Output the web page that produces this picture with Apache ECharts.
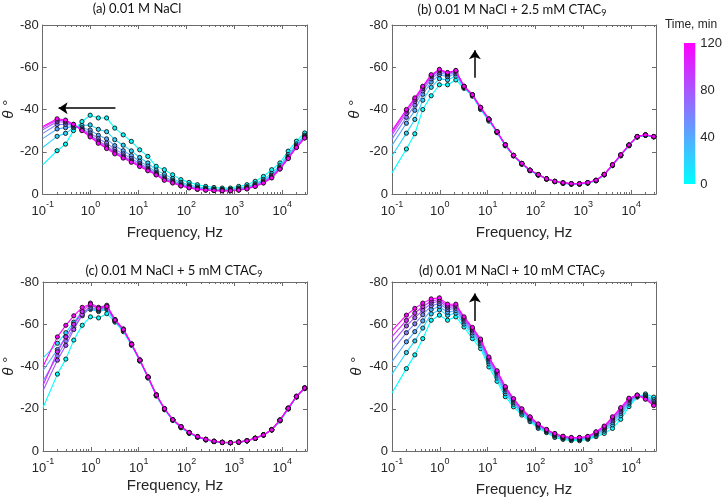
<!DOCTYPE html>
<html><head><meta charset="utf-8">
<script src="https://cdn.jsdelivr.net/npm/echarts@6/dist/echarts.min.js"></script>
<style>html,body{margin:0;padding:0;background:#fff}#c{width:725px;height:499px}</style>
</head><body><div id="c"></div>
<script>
// time of each curve (min)
const TIMES = [0, 20, 40, 60, 80, 100, 120];
// frequency (Hz); first entry = start of fitted line (no measured marker)
const FREQ = [0.1, 0.2, 0.3, 0.44, 0.66, 0.98, 1.45, 2.16, 3.2, 4.8, 7.1, 10.6, 15.7, 23.4, 34.7, 51.7, 76.8, 114, 170, 253, 376, 559, 831, 1236, 1838, 2733, 4064, 6043, 8985, 13360, 19870, 29540];
const TITLES = ['(a) 0.01 M NaCl', '(b) 0.01 M NaCl + 2.5 mM CTAC{sub|9}', '(c) 0.01 M NaCl + 5 mM CTAC{sub|9}', '(d) 0.01 M NaCl + 10 mM CTAC{sub|9}'];
const Y_TICKS = [-80, -60, -40, -20, 0];

// (a) 0.01 M NaCl  — phase angle (deg)
const a_t0   = [-13.8,-20.5,-23.6,-30,-34.3,-37.3,-36,-36,-31.2,-28,-24.9,-20.9,-17.8,-13.1,-11.5,-9.1,-6.8,-5.5,-4.4,-3.6,-3.1,-2.8,-2.8,-3.6,-4.4,-6,-8.3,-11.5,-14.7,-20.3,-25,-28.9];
const a_t20  = [-22,-27.3,-28.7,-31.4,-32.4,-32.7,-30.6,-29.5,-25.7,-23.1,-20.4,-17.3,-14.7,-11.3,-9.3,-7.3,-5.5,-4.3,-3.4,-2.8,-2.4,-2.2,-2.2,-2.8,-3.5,-4.9,-6.9,-9.7,-13.4,-18.7,-23.7,-27.8];
const a_t40  = [-26.2,-30.8,-31.4,-32,-31.4,-30.3,-27.8,-26.1,-22.9,-20.5,-18.2,-15.5,-13.2,-10.3,-8.1,-6.4,-4.8,-3.7,-2.9,-2.4,-2.1,-1.9,-1.9,-2.4,-3,-4.4,-6.2,-8.9,-12.7,-17.9,-23,-27.3];
const a_t60  = [-28.7,-32.9,-33,-32.5,-30.8,-28.9,-26.2,-24.1,-21.2,-19,-16.8,-14.4,-12.2,-9.7,-7.4,-5.9,-4.3,-3.4,-2.6,-2.1,-1.9,-1.7,-1.7,-2.1,-2.8,-4,-5.8,-8.3,-12.3,-17.4,-22.5,-26.9];
const a_t80  = [-30.4,-34.2,-34,-32.7,-30.4,-27.9,-25.1,-22.8,-20.1,-18,-15.9,-13.7,-11.6,-9.4,-7,-5.6,-4.1,-3.1,-2.4,-2,-1.7,-1.6,-1.6,-2,-2.6,-3.8,-5.5,-8,-12.1,-17.1,-22.3,-26.7];
const a_t100 = [-31.3,-35,-34.5,-32.9,-30.2,-27.4,-24.5,-22.1,-19.5,-17.4,-15.4,-13.3,-11.3,-9.2,-6.7,-5.4,-3.9,-3,-2.3,-1.9,-1.7,-1.6,-1.6,-1.9,-2.5,-3.7,-5.3,-7.8,-11.9,-16.9,-22.1,-26.6];
const a_t120 = [-32,-35.6,-35,-33,-30,-27,-24,-21.5,-19,-17,-15,-13,-11,-9,-6.5,-5.2,-3.8,-2.9,-2.2,-1.8,-1.6,-1.5,-1.5,-1.8,-2.4,-3.6,-5.2,-7.6,-11.8,-16.8,-22,-26.5];

// (b) + 2.5 mM CTAC9
const b_t0   = [-10,-21.3,-28.5,-40,-46.5,-51.7,-51.7,-54,-50,-46.3,-40,-34.5,-29,-22.8,-18,-14,-11,-8.9,-7,-5.8,-5,-4.6,-4.6,-5.1,-6.2,-9,-13.4,-18,-22.8,-26.9,-27.7,-27];
const b_t20  = [-18,-28.8,-35.3,-44.4,-50.5,-54.6,-54,-55.8,-50.4,-46.6,-40.4,-34.9,-29.2,-23,-18.1,-14.2,-11.1,-9,-7.1,-5.9,-5.1,-4.7,-4.7,-5.2,-6.3,-9.1,-13.6,-18.2,-23,-27,-27.8,-27.1];
const b_t40  = [-23,-33.5,-39.6,-47.2,-53,-56.5,-55.5,-56.9,-50.7,-46.8,-40.7,-35.2,-29.3,-23.1,-18.2,-14.3,-11.2,-9.1,-7.1,-5.9,-5.2,-4.8,-4.8,-5.3,-6.4,-9.2,-13.7,-18.3,-23.1,-27.1,-27.9,-27.1];
const b_t60  = [-26,-36.3,-42.1,-48.8,-54.5,-57.5,-56.3,-57.6,-50.8,-46.9,-40.8,-35.3,-29.4,-23.2,-18.2,-14.4,-11.2,-9.1,-7.2,-6,-5.2,-4.8,-4.8,-5.3,-6.4,-9.2,-13.7,-18.4,-23.1,-27.1,-27.9,-27.2];
const b_t80  = [-28,-38.1,-43.8,-49.9,-55.5,-58.3,-56.9,-58.1,-51,-47,-41,-35.5,-29.5,-23.3,-18.3,-14.5,-11.3,-9.2,-7.2,-6,-5.3,-4.9,-4.9,-5.4,-6.5,-9.3,-13.8,-18.5,-23.2,-27.2,-28,-27.2];
const b_t100 = [-29.2,-39.3,-44.8,-50.6,-56.1,-58.7,-57.3,-58.3,-51,-47,-41,-35.5,-29.5,-23.3,-18.3,-14.5,-11.3,-9.2,-7.2,-6,-5.3,-4.9,-4.9,-5.4,-6.5,-9.3,-13.8,-18.5,-23.2,-27.2,-28,-27.2];
const b_t120 = [-30,-40,-45.5,-51,-56.5,-59,-57.5,-58.5,-51,-47,-41,-35.5,-29.5,-23.3,-18.3,-14.5,-11.3,-9.2,-7.2,-6,-5.3,-4.9,-4.9,-5.4,-6.5,-9.3,-13.8,-18.5,-23.2,-27.2,-28,-27.2];

// (c) + 5 mM CTAC9
const c_t0   = [-20.5,-36.4,-43.5,-52.5,-59.5,-63.5,-63,-65,-61,-56.5,-50,-42.5,-34.5,-26,-19.5,-14.5,-11,-8.3,-6.5,-5.2,-4.4,-4,-3.9,-4.2,-4.8,-6,-7.6,-10,-14.2,-19.8,-25.5,-29.5];
const c_t20  = [-44,-51,-56,-61,-66,-67,-66,-67,-61.5,-57,-50.3,-42.8,-34.8,-26.3,-19.8,-14.6,-11.2,-8.5,-6.6,-5.3,-4.5,-4,-3.9,-4.2,-4.8,-6,-7.6,-10,-14.4,-20,-25.6,-29.6];
const c_t40  = [-38,-48,-54,-60,-65,-67.5,-66.5,-67.5,-61.7,-57.2,-50.4,-42.9,-34.9,-26.4,-19.9,-14.7,-11.3,-8.6,-6.7,-5.4,-4.5,-4.1,-3.9,-4.2,-4.8,-6,-7.6,-10,-14.5,-20.1,-25.7,-29.7];
const c_t60  = [-33,-45,-52,-58.5,-64,-68,-67,-68,-61.8,-57.3,-50.4,-42.9,-34.9,-26.4,-19.9,-14.7,-11.4,-8.6,-6.7,-5.4,-4.5,-4.1,-3.9,-4.2,-4.8,-6,-7.6,-10,-14.5,-20.1,-25.7,-29.7];
const c_t80  = [-28.5,-43,-50,-57.5,-64.5,-69,-67.5,-68.5,-62,-57.5,-50.5,-43,-35,-26.5,-20,-14.8,-11.5,-8.7,-6.8,-5.5,-4.6,-4.1,-3.9,-4.2,-4.8,-6,-7.6,-10,-14.6,-20.2,-25.8,-29.8];
const c_t100 = [-31,-47,-54,-60,-66,-70,-68,-69,-62.3,-57.8,-50.8,-43.2,-35.2,-26.7,-20.1,-14.9,-11.6,-8.8,-6.9,-5.6,-4.7,-4.2,-4,-4.3,-4.9,-6.1,-7.7,-10.2,-14.8,-20.4,-26,-30];
const c_t120 = [-40,-54,-59.5,-64,-68,-69.5,-67.5,-68.5,-62,-57.5,-50.5,-43,-35,-26.5,-20,-14.8,-11.5,-8.7,-6.8,-5.5,-4.6,-4.1,-3.9,-4.2,-4.8,-6,-7.6,-10,-14.6,-20.2,-25.8,-29.8];

// (d) + 10 mM CTAC9
const d_t0   = [-27.5,-39,-45.5,-53.2,-61.9,-64.3,-61.9,-63.5,-58.7,-53.2,-48.5,-39.8,-33,-25.7,-20.9,-17,-13.9,-10.7,-8.7,-6.4,-5.5,-4.9,-4.9,-5.5,-6.8,-8.3,-10.7,-15,-21,-25.5,-27,-25.5];
const d_t20  = [-36.4,-46.6,-52.1,-58.2,-64.9,-66.8,-64.2,-65.3,-60.1,-54.8,-49.9,-41.2,-34.5,-27.1,-22.1,-17.9,-14.6,-11.3,-9.2,-7,-6,-5.4,-5.4,-5.9,-7.5,-9.4,-12.4,-16.7,-22.2,-25.8,-26.3,-24.3];
const d_t40  = [-42.3,-51.7,-56.5,-61.6,-67,-68.4,-65.7,-66.5,-61.1,-55.9,-50.8,-42.2,-35.5,-28.1,-22.9,-18.5,-15.1,-11.8,-9.5,-7.4,-6.3,-5.7,-5.7,-6.2,-8,-10.1,-13.5,-17.8,-23,-26,-25.8,-23.5];
const d_t60  = [-47.3,-56,-60.2,-64.5,-68.7,-69.8,-67,-67.5,-61.9,-56.8,-51.5,-43,-36.4,-28.9,-23.5,-19,-15.4,-12.1,-9.7,-7.7,-6.5,-5.9,-5.9,-6.4,-8.3,-10.7,-14.4,-18.7,-23.7,-26.2,-25.3,-22.8];
const d_t80  = [-51.1,-59.2,-63.1,-66.6,-70,-70.9,-68,-68.3,-62.5,-57.4,-52.1,-43.6,-37,-29.5,-24,-19.4,-15.7,-12.4,-9.9,-7.9,-6.7,-6.1,-6.1,-6.6,-8.6,-11.1,-15.1,-19.4,-24.2,-26.3,-25,-22.3];
const d_t100 = [-54.1,-61.8,-65.3,-68.3,-71,-71.7,-68.7,-68.9,-63,-58,-52.6,-44,-37.5,-30,-24.4,-19.7,-16,-12.6,-10.1,-8.1,-6.9,-6.3,-6.3,-6.8,-8.9,-11.5,-15.7,-20,-24.6,-26.4,-24.8,-21.9];
const d_t120 = [-57,-64.3,-67.5,-70,-72,-72.5,-69.5,-69.5,-63.5,-58.5,-53,-44.5,-38,-30.5,-24.8,-20,-16.2,-12.8,-10.2,-8.3,-7,-6.4,-6.4,-6.9,-9.1,-11.8,-16.2,-20.5,-25,-26.5,-24.5,-21.5];

// arrows (frequency Hz, phase deg): [tail, head]
const ARROW_A = [[3.3, -40.6], [0.215, -40.6]];
const ARROW_B = [[5.4, -55], [5.4, -68]];
const ARROW_D = [[5.4, -61.5], [5.4, -74.5]];

const PANELS = [
  {curves: [a_t0, a_t20, a_t40, a_t60, a_t80, a_t100, a_t120], arrow: ARROW_A},
  {curves: [b_t0, b_t20, b_t40, b_t60, b_t80, b_t100, b_t120], arrow: ARROW_B},
  {curves: [c_t0, c_t20, c_t40, c_t60, c_t80, c_t100, c_t120], arrow: null},
  {curves: [d_t0, d_t20, d_t40, d_t60, d_t80, d_t100, d_t120], arrow: ARROW_D}
];

// layout
const GRIDS = [[42, 25, 265, 169], [392, 25, 264, 169], [43, 282, 264, 169], [392, 282, 264, 169]];
const YNAME_GAP = [22, 30, 23, 28];
const XNAME_GAP = [31, 31, 27, 31];
const TITLE_POS = [[137, 9], [512, 10], [174, 271], [512, 271]];

const TXT = '#262626', BOX = '#6b6b6b';
const FONT = 'Liberation Sans, Arial, sans-serif';

function cool(t) {
  const f = t / TIMES[TIMES.length - 1];
  const r = Math.round(255 * f), g = Math.round(255 * (1 - f));
  return 'rgb(' + r + ',' + g + ',255)';
}
function logLabel(v) {
  const l = Math.log10(v), e = Math.round(l);
  if (Math.abs(l - e) > 0.01) return '';
  return '{b|10}{s|' + e + '}';
}

const grids = [], xAxes = [], yAxes = [], series = [];
GRIDS.forEach((g, gi) => {
  grids.push({left: g[0], top: g[1], width: g[2], height: g[3], containLabel: false});
  const xBase = {gridIndex: gi, type: 'log', logBase: 10, min: 0.1, max: 33000,
    splitLine: {show: false},
    axisLine: {show: true, onZero: false, lineStyle: {color: BOX, width: 1}},
    axisTick: {show: true, inside: true, length: 4, lineStyle: {color: BOX}},
    minorTick: {show: true, splitNumber: 9, length: 2, lineStyle: {color: BOX}}};
  xAxes.push(Object.assign({}, xBase, {position: 'bottom',
    axisLabel: {show: true, formatter: logLabel, margin: 6,
      rich: {b: {fontSize: 13, fontFamily: FONT, color: TXT, lineHeight: 18, verticalAlign: 'bottom'},
             s: {fontSize: 9, fontFamily: FONT, color: TXT, lineHeight: 9, verticalAlign: 'top'}}},
    name: 'Frequency, Hz', nameLocation: 'middle', nameGap: XNAME_GAP[gi],
    nameTextStyle: {fontSize: 15, fontFamily: FONT, color: TXT}}));
  xAxes.push(Object.assign({}, xBase, {position: 'top', axisLabel: {show: false}}));
  const yBase = {gridIndex: gi, type: 'value', min: Y_TICKS[0], max: Y_TICKS[Y_TICKS.length - 1], interval: 20, inverse: true,
    splitLine: {show: false},
    axisLine: {show: true, onZero: false, lineStyle: {color: BOX, width: 1}},
    axisTick: {show: true, inside: true, length: 4, lineStyle: {color: BOX}}};
  yAxes.push(Object.assign({}, yBase, {position: 'left',
    axisLabel: {show: true, fontSize: 13, fontFamily: FONT, color: TXT, margin: 4},
    name: 'θ °', nameLocation: 'middle', nameRotate: 90, nameGap: YNAME_GAP[gi],
    nameTextStyle: {fontSize: 15, fontFamily: FONT, color: TXT, fontStyle: 'italic'}}));
  yAxes.push(Object.assign({}, yBase, {position: 'right', axisLabel: {show: false}}));

  const p = PANELS[gi];
  p.curves.forEach((vals, ci) => {
    const col = cool(TIMES[ci]);
    const s = {
      type: 'line', xAxisIndex: gi * 2, yAxisIndex: gi * 2,
      data: vals.map((v, i) => i === 0 ? {value: [FREQ[i], v], symbol: 'none'} : [FREQ[i], v]),
      symbol: 'circle', symbolSize: 4.2, showSymbol: true, showAllSymbol: true,
      lineStyle: {color: col, width: 1.1},
      itemStyle: {color: col, borderColor: '#111', borderWidth: 0.9},
      silent: true, animation: false, z: 2 + ci
    };
    if (ci === p.curves.length - 1 && p.arrow) {
      s.markLine = {silent: true, animation: false, symbol: ['none', 'arrow'], symbolSize: 9,
        lineStyle: {color: '#000', width: 1.5, type: 'solid'}, label: {show: false},
        emphasis: {disabled: true},
        data: [[{coord: p.arrow[0]}, {coord: p.arrow[1]}]]};
    }
    series.push(s);
  });
});

// colour bar
grids.push({left: 684, top: 43, width: 16, height: 141, containLabel: false});
xAxes.push({gridIndex: 4, type: 'category', data: ['time'], show: false});
yAxes.push({gridIndex: 4, type: 'value', min: TIMES[0], max: TIMES[TIMES.length - 1], interval: 40, position: 'right',
  axisLine: {show: false}, axisTick: {show: false}, splitLine: {show: false},
  axisLabel: {fontSize: 13, fontFamily: FONT, color: TXT, margin: 5}});
series.push({type: 'bar', xAxisIndex: 8, yAxisIndex: 8, data: [TIMES[TIMES.length - 1]], barWidth: '100%', silent: true, animation: false,
  itemStyle: {color: new echarts.graphic.LinearGradient(0, 1, 0, 0, [{offset: 0, color: cool(TIMES[0])}, {offset: 1, color: cool(TIMES[TIMES.length - 1])}])}});

const graphic = TITLES.map((t, i) => ({type: 'text', x: TITLE_POS[i][0], y: TITLE_POS[i][1], silent: true,
  style: {text: t, fontSize: 13, fontFamily: 'Lato, Carlito, sans-serif', fill: '#111', align: 'center', verticalAlign: 'middle', lineHeight: 16,
    rich: {sub: {fontSize: 9, fontFamily: 'Lato, Carlito, sans-serif', fill: '#111', lineHeight: 10, verticalAlign: 'bottom'}}}}));
graphic.push({type: 'text', x: 691, y: 25, silent: true,
  style: {text: 'Time, min', fontSize: 12, fontFamily: FONT, fill: TXT, align: 'center', verticalAlign: 'middle'}});

const chart = echarts.init(document.getElementById('c'), null, {renderer: 'canvas'});
chart.setOption({backgroundColor: '#fff', animation: false, grid: grids, xAxis: xAxes, yAxis: yAxes, series: series, graphic: graphic});
</script></body></html>
